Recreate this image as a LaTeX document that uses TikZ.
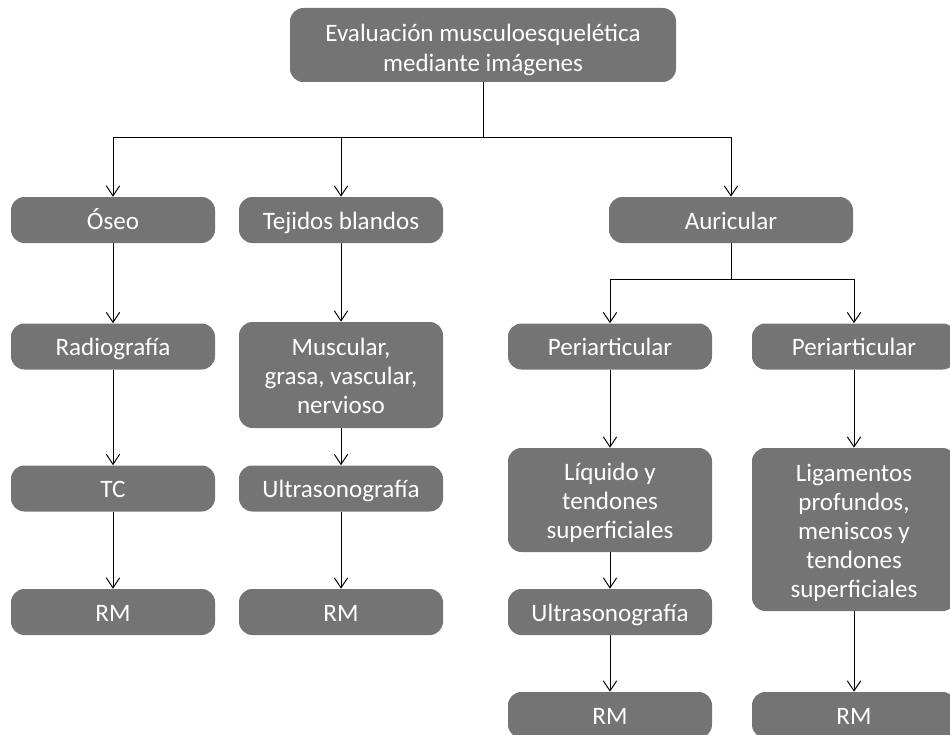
\documentclass[tikz,border=0pt]{standalone}
\usepackage{fontspec}
\setmainfont{Carlito}
\usetikzlibrary{arrows.meta}
\definecolor{boxgray}{RGB}{116,116,116}
\newcommand\boxstrut{\rule[-4pt]{0pt}{21.5pt}}
% several lines, with some room added above them
\newcommand\boxlines[2][6pt]{\raisebox{0pt}[\dimexpr\height+#1\relax][\depth]{\begin{tabular}{@{}c@{}}#2\end{tabular}}}
\tikzset{
	box/.style={draw=none, fill=boxgray, text=white, rounded corners=10pt,
		minimum width=204*0.75pt, minimum height=46*0.75pt, inner sep=0pt,
		font=\fontsize{18.8}{21.75}\selectfont},
	onebox/.style={box, execute at begin node=\boxstrut},
	arr/.style={-{Straight Barb[length=7.5pt, width=10pt]}, line width=0.75pt},
	link/.style={line width=0.75pt}
}

\begin{document}
\begin{tikzpicture}[x=0.75pt, y=-0.75pt]
			%%%%% START %%%%%
			\clip (0, 0) rectangle (950, 735);
			\useasboundingbox (0, 0) rectangle (950, 735);
			
			\node[box, minimum width=386*0.75pt, minimum height=74*0.75pt, font=\fontsize{18.8}{22.5}\selectfont] (top) at (483, 45)
				{\boxlines[9pt]{Evaluación musculoesquelética\\mediante imágenes}};
			
			\node[onebox] (oseo) at (113, 220) {Óseo};
			\node[onebox] (blandos) at (341, 220) {Tejidos blandos};
			\node[onebox, minimum width=244*0.75pt] (auric) at (731, 220) {Auricular};
			
			\node[onebox] (radio) at (113, 346.5) {Radiografía};
			\node[box, minimum height=106*0.75pt] (muscular) at (341, 375) {\boxlines{Muscular,\\grasa, vascular,\\nervioso}};
			\node[onebox] (periA) at (610, 346.5) {Periarticular};
			\node[onebox] (periB) at (854, 346.5) {Periarticular};
			
			\node[onebox] (tc) at (113, 488.5) {TC};
			\node[onebox] (ultraA) at (341, 488.5) {Ultrasonografía};
			\node[box, minimum height=104*0.75pt] (liquido) at (610, 500) {\boxlines{Líquido y\\tendones\\superficiales}};
			\node[box, minimum height=163*0.75pt] (ligam) at (854, 529.5) {\boxlines{Ligamentos\\profundos,\\meniscos y\\tendones\\superficiales}};
			
			\node[onebox] (rmA) at (113, 612) {RM};
			\node[onebox] (rmB) at (341, 612) {RM};
			\node[onebox] (ultraB) at (610, 612) {Ultrasonografía};
			
			\node[onebox] (rmC) at (610, 715) {RM};
			\node[onebox] (rmD) at (854, 715) {RM};
			
			\coordinate (jtop) at (483, 137);
			\coordinate (jauric) at (731, 279);
			
			\draw[link] (top) -- (jtop);
			\draw[arr] (jtop) -| (oseo);
			\draw[arr] (jtop) -| (blandos);
			\draw[arr] (jtop) -| (auric);
			
			\draw[link] (auric) -- (jauric);
			\draw[arr] (jauric) -| (periA);
			\draw[arr] (jauric) -| (periB);
			
			\draw[arr] (oseo) -- (radio);
			\draw[arr] (radio) -- (tc);
			\draw[arr] (tc) -- (rmA);
			
			\draw[arr] (blandos) -- (muscular);
			\draw[arr] (muscular) -- (ultraA);
			\draw[arr] (ultraA) -- (rmB);
			
			\draw[arr] (periA) -- (liquido);
			\draw[arr] (liquido) -- (ultraB);
			\draw[arr] (ultraB) -- (rmC);
			
			\draw[arr] (periB) -- (ligam);
			\draw[arr] (ligam) -- (rmD);
			%%%%% END %%%%%
\end{tikzpicture}
\end{document}
